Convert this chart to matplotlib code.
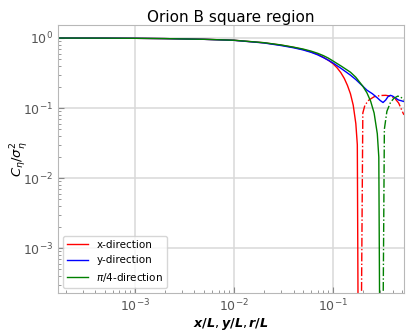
import numpy as np
import matplotlib
matplotlib.use("Agg")
import matplotlib.pyplot as plt

# lag values (x/L) and normalised correlation C/sigma^2
x_red = [1.7e-4, 5e-4, 1e-3, 2e-3, 5e-3, 1e-2, 2e-2, 3e-2, 4e-2, 5e-2, 6e-2, 7e-2,
         8e-2, 9e-2, 0.1, 0.11, 0.12, 0.13, 0.14, 0.15, 0.16, 0.17, 0.176, 0.1805,
         0.191, 0.2, 0.21, 0.23, 0.26, 0.3, 0.34, 0.38, 0.42, 0.46, 0.5, 0.52]
c_red = [0.998, 0.995, 0.99, 0.98, 0.958, 0.928, 0.855, 0.79, 0.735, 0.685, 0.635, 0.585,
         0.53, 0.48, 0.43, 0.375, 0.32, 0.265, 0.21, 0.16, 0.11, 0.06, 0.03, 1e-5,
         -1e-5, -0.085, -0.11, -0.13, -0.145, -0.151, -0.152, -0.148, -0.138, -0.118, -0.09, -0.08]

x_blue = [1.7e-4, 5e-4, 1e-3, 2e-3, 5e-3, 1e-2, 2e-2, 3e-2, 4e-2, 5e-2, 6e-2, 7e-2,
          8e-2, 9e-2, 0.1, 0.12, 0.15, 0.17, 0.2, 0.22, 0.25, 0.28, 0.3, 0.32, 0.34,
          0.36, 0.38, 0.4, 0.43, 0.46, 0.5, 0.52]
c_blue = [0.998, 0.995, 0.99, 0.98, 0.957, 0.926, 0.85, 0.78, 0.725, 0.675, 0.625, 0.575,
          0.525, 0.48, 0.44, 0.37, 0.295, 0.255, 0.205, 0.18, 0.16, 0.14, 0.128, 0.12, 0.13,
          0.146, 0.152, 0.148, 0.138, 0.13, 0.126, 0.124]

x_green = [1.7e-4, 5e-4, 1e-3, 2e-3, 5e-3, 1e-2, 2e-2, 3e-2, 4e-2, 5e-2, 6e-2, 7e-2,
           8e-2, 9e-2, 0.1, 0.12, 0.15, 0.17, 0.2, 0.22, 0.24, 0.26, 0.28, 0.29, 0.2985,
           0.3165, 0.33, 0.35, 0.38, 0.41, 0.45, 0.48, 0.52]
c_green = [0.998, 0.995, 0.99, 0.98, 0.958, 0.929, 0.858, 0.795, 0.74, 0.695, 0.65, 0.605,
           0.56, 0.515, 0.47, 0.40, 0.325, 0.275, 0.205, 0.165, 0.125, 0.085, 0.043, 0.02, 1e-5,
           -1e-5, -0.05, -0.09, -0.12, -0.137, -0.148, -0.145, -0.13]

labels = ["x-direction", "y-direction", r"$\pi$/4-direction"]
colors = ["red", "blue", "green"]

fig = plt.figure(figsize=(4.16, 3.34), dpi=100)
ax = fig.add_axes([0.139, 0.123, 0.832, 0.802])

for xs, cs, col, lab in zip([x_red, x_blue, x_green], [c_red, c_blue, c_green], colors, labels):
    xs = np.array(xs)
    cs = np.array(cs)
    pos = np.where(cs > 0, cs, np.nan)
    neg = np.where(cs < 0, -cs, np.nan)
    ax.plot(xs, pos, color=col, lw=1.0, label=lab)
    if np.any(cs < 0):
        ax.plot(xs, neg, color=col, lw=1.0, ls="-.")

ax.set_xscale("log")
ax.set_yscale("log")
ax.set_xlim(1.67e-4, 0.52)
ax.set_ylim(2.3e-4, 1.53)

ax.grid(True, which="major", color="#d8d8d8", lw=1.1)
ax.set_axisbelow(True)
for s in ax.spines.values():
    s.set_color("#b8b8b8")
ax.tick_params(which="both", direction="in", colors="#888888", labelcolor="#555555",
               labelsize=9, top=False, right=False)
ax.tick_params(which="major", length=4)
ax.tick_params(which="minor", length=2)

ax.set_title("Orion B square region", fontsize=11, pad=2)
ax.set_xlabel(r"$\boldsymbol{x/L, y/L, r/L}$", fontsize=9.2)
ax.xaxis.set_label_coords(0.5, -0.085)
ax.set_ylabel(r"$C_\eta/\sigma_\eta^2$", fontsize=9.5)
ax.yaxis.set_label_coords(-0.08, 0.5)

leg = ax.legend(loc="lower left", fontsize=7.5, frameon=True, fancybox=True)
leg.get_frame().set_edgecolor("#cccccc")

fig.savefig("out.png", dpi=100)
